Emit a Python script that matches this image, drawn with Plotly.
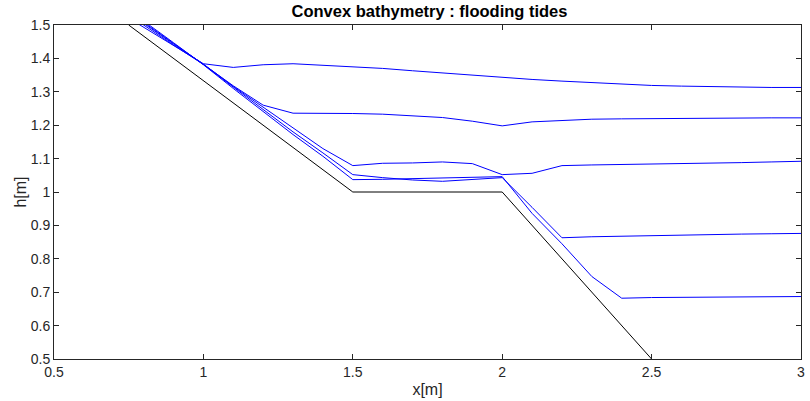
import plotly.graph_objects as go

x_pts = [0.7, 0.8, 0.9, 1.0, 1.1, 1.2, 1.3, 1.4, 1.5, 1.6, 1.7, 1.8, 1.9, 2.0,
         2.1, 2.2, 2.3, 2.4, 2.5, 2.6, 2.7, 2.8, 2.9, 3.0]

h_t1 = [1.548, 1.493, 1.438, 1.384, 1.373, 1.381, 1.384, 1.380, 1.376, 1.370, 1.363, 1.356,
        1.350, 1.343, 1.337, 1.332, 1.327, 1.323, 1.319, 1.317, 1.315, 1.314, 1.313, 1.313]
h_t2 = [1.565, 1.500, 1.440, 1.382, 1.318, 1.260, 1.236, 1.236, 1.235, 1.233, 1.229, 1.223,
        1.212, 1.198, 1.210, 1.215, 1.218, 1.219, 1.220, 1.221, 1.221, 1.222, 1.222, 1.222]
h_t3 = [1.570, 1.505, 1.443, 1.383, 1.316, 1.254, 1.192, 1.130, 1.079, 1.086, 1.087, 1.090,
        1.085, 1.052, 1.056, 1.079, 1.081, 1.082, 1.084, 1.085, 1.087, 1.088, 1.090, 1.092]
h_t4 = [1.575, 1.508, 1.445, 1.382, 1.314, 1.246, 1.180, 1.117, 1.052, 1.043, 1.036, 1.032,
        1.037, 1.043, 0.954, 0.863, 0.866, 0.868, 0.870, 0.872, 0.873, 0.874, 0.875, 0.876]
h_t5 = [1.580, 1.512, 1.447, 1.381, 1.310, 1.240, 1.172, 1.107, 1.037, 1.038, 1.040, 1.041,
        1.043, 1.046, 0.936, 0.845, 0.747, 0.682, 0.684, 0.685, 0.685, 0.686, 0.686, 0.687]

bed_x = [0.75, 1.5, 2.0, 2.5]
bed_h = [1.5, 1.0, 1.0, 0.5]

x_ticks = [0.5, 1, 1.5, 2, 2.5, 3]
y_ticks = [0.5, 0.6, 0.7, 0.8, 0.9, 1, 1.1, 1.2, 1.3, 1.4, 1.5]

fig = go.Figure()
fig.add_trace(go.Scatter(x=bed_x, y=bed_h, mode="lines",
                         line=dict(color="black", width=1), showlegend=False))
for h in [h_t1, h_t2, h_t3, h_t4, h_t5]:
    fig.add_trace(go.Scatter(x=x_pts, y=h, mode="lines",
                             line=dict(color="#0000ff", width=1), showlegend=False))

axis_common = dict(showgrid=False, zeroline=False, showline=True, linecolor="#262626",
                   linewidth=1, mirror="ticks", ticks="inside", ticklen=5,
                   tickcolor="#262626", tickfont=dict(size=14, color="#262626"),
                   ticklabeloverflow="allow")

fig.update_layout(
    width=810, height=401,
    margin=dict(l=54, r=5, t=25, b=42),
    paper_bgcolor="white", plot_bgcolor="white",
    font=dict(family="Liberation Sans, Arial, sans-serif", size=14, color="#262626"),
    title=dict(text="<b>Convex bathymetry : flooding tides</b>",
               x=(54 + 805) / 2 / 810, xanchor="center",
               y=1 - 11 / 401, yanchor="middle", yref="container",
               font=dict(size=16.5, color="black")),
    xaxis=dict(range=[0.5, 3], tickvals=x_ticks,
               title=dict(text="x[m]", standoff=5, font=dict(size=16)), **axis_common),
    yaxis=dict(range=[0.5, 1.5], tickvals=y_ticks,
               title=dict(text="h[m]", standoff=0, font=dict(size=16)), **axis_common),
)

fig.write_html("out.html", config={"displayModeBar": False},
               post_script="document.body.style.margin='0';")
